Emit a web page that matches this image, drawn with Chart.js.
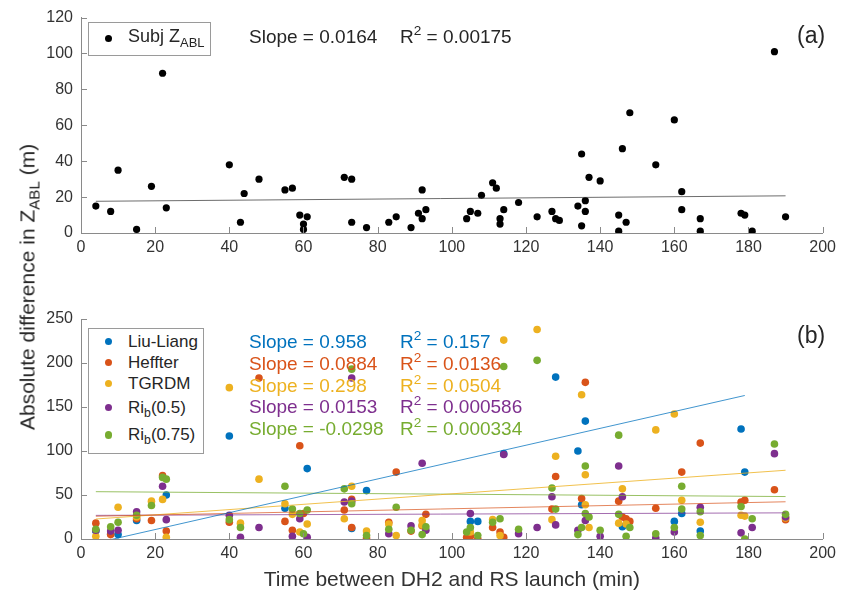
<!DOCTYPE html>
<html>
<head>
<meta charset="utf-8">
<script src="https://cdn.jsdelivr.net/npm/chart.js@4.4.0/dist/chart.umd.min.js"></script>
<style>
  body { margin: 0; background: #fff; font-family: "Liberation Sans", Arial, sans-serif; color: #262626; }
  #wrap { position: relative; width: 841px; height: 595px; overflow: hidden; }
  canvas { position: absolute; left: 0; }
  .box { position: absolute; border: 1px solid #9a9a9a; background: #fff; }
  .txt { position: absolute; white-space: nowrap; line-height: 1; }
  .dot { position: absolute; border-radius: 50%; }
  sub { font-size: 0.72em; vertical-align: -0.35em; line-height: 0; }
  sup { font-size: 0.72em; vertical-align: 0.55em; line-height: 0; }
</style>
</head>
<body>
<div id="wrap">
  <canvas id="chartA" width="841" height="265" style="top:0"></canvas>
  <canvas id="chartB" width="841" height="305" style="top:290px"></canvas>
  <div class="txt" id="ylab" style="left:27px; top:287px; font-size:21px; transform: translate(-50%,-50%) rotate(-90deg);">Absolute difference in Z<sub>ABL</sub> (m)</div>
</div>
<script>
// panel (a): subjective ABL height differences
const subjTime = [4, 8, 10, 15, 19, 22, 23, 40, 43, 44, 48, 55, 57, 59, 60, 60, 61, 71, 73, 73, 77, 83, 85, 89, 91, 92, 92, 93,
  104, 105, 107, 108, 111, 112, 113, 113, 114, 118, 123, 127, 128, 129, 134, 135, 135, 136, 136, 137, 140,
  145, 145, 146, 147, 148, 155, 160, 162, 162, 167, 167, 178, 179, 181, 187, 190];
const subjDiff = [15, 12, 35, 2, 26, 89, 14, 38, 6, 22, 30, 24, 25, 10, 5, 2, 9, 31, 30, 6, 3, 6, 9, 3, 11, 24, 8, 13,
  8, 12, 11, 21, 28, 25, 8, 5, 13, 17, 9, 12, 8, 7, 15, 44, 4, 18, 12, 31, 29,
  10, 1, 47, 6, 67, 38, 63, 23, 13, 8, 1, 11, 10, 1, 101, 9];
const subjSlope = 0.0164;
const subjIntercept = 17.6;
const subjR2 = '0.00175';

// panel (b): objective methods, [time, difference]
const liuLiang = [[4,9],[8,6],[10,5],[15,21],[23,50],[40,117],[55,35],[61,80],[73,12],[77,55],[105,20],[107,20],[114,97],
  [128,184],[134,100],[135,39],[136,134],[146,14],[160,20],[162,29],[167,9],[178,125],[179,76]];
const heffter = [[4,18],[8,5],[15,23],[19,21],[22,72],[23,9],[40,19],[48,183],[55,20],[57,10],[59,106],[60,29],[71,33],
  [73,45],[73,13],[77,1],[83,19],[85,76],[89,9],[92,15],[93,28],[104,2],[105,3],[107,0],[111,13],[113,8],[114,2],
  [127,34],[128,71],[135,46],[136,178],[145,43],[146,25],[147,23],[148,20],[155,35],[162,76],[167,109],[178,42],
  [179,44],[187,56],[190,22]];
const tgrdm = [[4,3],[10,36],[15,25],[19,43],[22,45],[23,2],[40,172],[43,18],[48,68],[55,40],[57,28],[59,8],[61,17],
  [71,23],[73,60],[77,9],[83,17],[85,4],[92,21],[92,16],[105,8],[111,22],[113,4],[114,226],[123,238],[127,22],
  [128,94],[135,164],[136,73],[136,39],[137,13],[145,18],[146,57],[147,17],[155,124],[160,142],[162,44],[167,19],
  [178,27],[179,26],[190,24]];
const rib05 = [[4,10],[8,9],[10,10],[15,31],[22,60],[23,22],[40,27],[43,2],[48,13],[57,3],[59,23],[61,2],[71,42],
  [73,183],[73,43],[83,6],[89,15],[92,86],[93,10],[105,29],[114,96],[118,6],[123,13],[127,48],[128,16],[134,10],
  [136,21],[140,3],[145,83],[146,48],[155,1],[160,8],[167,36],[178,7],[181,13],[187,97],[190,25]];
const rib075 = [[4,11],[8,14],[10,19],[15,27],[19,38],[22,70],[23,68],[40,22],[43,13],[55,60],[57,34],[59,29],[60,6],
  [61,33],[71,57],[73,193],[73,40],[77,4],[83,11],[85,36],[89,10],[92,5],[93,14],[104,8],[105,13],[107,4],[111,19],
  [113,23],[114,196],[118,11],[123,203],[127,58],[128,34],[134,5],[135,13],[136,83],[136,29],[137,25],[140,10],
  [145,118],[145,28],[147,3],[148,13],[155,6],[160,13],[162,60],[162,34],[167,31],[167,4],[178,37],[179,0],[181,23],
  [187,108],[190,28]];

const methodNames = ['Liu-Liang', 'Heffter', 'TGRDM', 'Ri<sub>b</sub>(0.5)', 'Ri<sub>b</sub>(0.75)'];
const methodColors = ['#0072BD', '#D95319', '#EDB120', '#7E2F8E', '#77AC30'];
const lineColors = ['rgba(0,114,189,0.75)', 'rgba(217,83,25,0.7)', 'rgba(237,177,32,0.8)', 'rgba(126,47,142,0.7)', 'rgba(119,172,48,0.75)'];
const methodSlopes = [0.958, 0.0884, 0.298, 0.0153, -0.0298];
const methodIntercepts = [-8.4, 25.5, 21.5, 26.8, 53.9];
const methodR2 = ['0.157', '0.0136', '0.0504', '0.000586', '0.000334'];
const methodData = [liuLiang, heffter, tgrdm, rib05, rib075];

const xTicks = [0, 200, 20];
const yTicksA = [0, 120, 20];
const yTicksB = [0, 250, 50];

const axisColor = '#8a8a8a';
const labelColor = '#333333';
const fontFam = '"Liberation Sans", Arial, sans-serif';

// MATLAB style ticks pointing into the plot
const inwardTicks = {
  id: 'inwardTicks',
  afterDraw(chart) {
    const {ctx, chartArea, scales} = chart;
    ctx.save();
    ctx.strokeStyle = axisColor;
    ctx.lineWidth = 1;
    ctx.beginPath();
    scales.x.ticks.forEach(t => {
      const px = Math.round(scales.x.getPixelForValue(t.value)) + 0.5;
      ctx.moveTo(px, chartArea.bottom);
      ctx.lineTo(px, chartArea.bottom - 6);
    });
    scales.y.ticks.forEach(t => {
      const py = Math.round(scales.y.getPixelForValue(t.value)) + 0.5;
      ctx.moveTo(chartArea.left, py);
      ctx.lineTo(chartArea.left + 6, py);
    });
    ctx.stroke();
    ctx.restore();
  }
};

function fitLine(xs, slope, icpt) {
  const lo = Math.min(...xs), hi = Math.max(...xs);
  return [{x: lo, y: icpt + slope * lo}, {x: hi, y: icpt + slope * hi}];
}

function axes(yr, xHeight, title) {
  const tickFont = {family: fontFam, size: 16};
  return {
    x: {
      type: 'linear', min: xTicks[0], max: xTicks[1],
      ticks: {stepSize: xTicks[2], color: labelColor, font: tickFont, padding: 5, maxRotation: 0},
      grid: {display: false, drawTicks: false},
      border: {color: axisColor, width: 1},
      title: title ? {display: true, text: title, color: labelColor, font: {family: fontFam, size: 21}, padding: {top: 4, bottom: 2.5}} : {display: false},
      afterFit: s => { s.height = xHeight; }
    },
    y: {
      type: 'linear', min: yr[0], max: yr[1],
      ticks: {stepSize: yr[2], color: labelColor, font: tickFont, padding: 8},
      grid: {display: false, drawTicks: false},
      border: {color: axisColor, width: 1},
      afterFit: s => { s.width = 81; }
    }
  };
}

new Chart(document.getElementById('chartA'), {
  type: 'scatter',
  data: {
    datasets: [
      {type: 'line', data: fitLine(subjTime, subjSlope, subjIntercept), borderColor: 'rgba(60,60,60,0.75)', borderWidth: 1,
       pointRadius: 0, order: 0},
      {data: subjTime.map((t, i) => ({x: t, y: subjDiff[i]})), backgroundColor: '#000', borderWidth: 0,
       pointRadius: 3.6, order: 1}
    ]
  },
  options: {
    responsive: false, animation: false,
    layout: {padding: {left: 0, right: 13, top: 13, bottom: 0}},
    plugins: {legend: {display: false}, tooltip: {enabled: false}},
    scales: axes(yTicksA, 32)
  },
  plugins: [inwardTicks]
});

const dsB = [];
methodData.forEach((pts, i) => {
  dsB.push({type: 'line', data: fitLine(pts.map(p => p[0]), methodSlopes[i], methodIntercepts[i]),
    borderColor: lineColors[i], borderWidth: 1, pointRadius: 0, order: 0});
});
methodData.forEach((pts, i) => {
  dsB.push({data: pts.map(p => ({x: p[0], y: p[1]})), backgroundColor: methodColors[i], borderWidth: 0,
    pointRadius: 3.8, order: 10 - i});
});

new Chart(document.getElementById('chartB'), {
  type: 'scatter',
  data: {datasets: dsB},
  options: {
    responsive: false, animation: false,
    layout: {padding: {left: 0, right: 13, top: 29, bottom: 0}},
    plugins: {legend: {display: false}, tooltip: {enabled: false}},
    scales: axes(yTicksB, 56, 'Time between DH2 and RS launch (min)')
  },
  plugins: [inwardTicks]
});

// legends and annotations
const wrap = document.getElementById('wrap');
function add(cls, style, html) {
  const d = document.createElement('div');
  d.className = cls;
  Object.assign(d.style, style);
  if (html) d.innerHTML = html;
  wrap.appendChild(d);
  return d;
}

// panel (a)
add('box', {left: '88px', top: '22px', width: '121px', height: '32px'});
add('dot', {left: '105px', top: '35px', width: '7px', height: '7px', background: '#000'});
add('txt', {left: '128px', top: '27px', fontSize: '18px'}, 'Subj Z<sub>ABL</sub>');
add('txt', {left: '249px', top: '27px', fontSize: '19px'}, 'Slope = ' + subjSlope);
add('txt', {left: '400px', top: '27px', fontSize: '19px'}, 'R<sup>2</sup> = ' + subjR2);
add('txt', {left: '797px', top: '24px', fontSize: '23px'}, '(a)');

// panel (b)
add('box', {left: '88px', top: '328px', width: '114px', height: '124px'});
const legY = [341.7, 362.7, 383.7, 407.5, 435];
methodNames.forEach((n, i) => {
  add('dot', {left: (108.3 - 3.8) + 'px', top: (legY[i] - 3.8) + 'px', width: '7.6px', height: '7.6px', background: methodColors[i]});
  add('txt', {left: '128px', top: (legY[i] - 9) + 'px', fontSize: '17px'}, n);
});
methodSlopes.forEach((s, i) => {
  const top = 332.2 + i * 21.7;
  add('txt', {left: '249px', top: top + 'px', fontSize: '19px', color: methodColors[i]}, 'Slope = ' + s);
  add('txt', {left: '400px', top: top + 'px', fontSize: '19px', color: methodColors[i]}, 'R<sup>2</sup> = ' + methodR2[i]);
});
add('txt', {left: '797px', top: '323.8px', fontSize: '23px'}, '(b)');
</script>
</body>
</html>
